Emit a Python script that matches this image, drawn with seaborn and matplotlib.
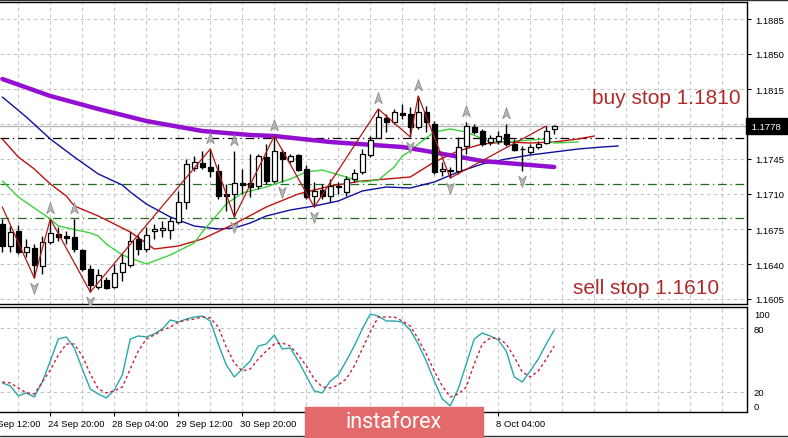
import numpy as np
import pandas as pd
import matplotlib
matplotlib.use('Agg')
import matplotlib.pyplot as plt
import matplotlib.transforms as mtransforms
from matplotlib.patches import Rectangle
from matplotlib.lines import Line2D
import seaborn as sns

# EURUSD H4 candles (bar 0 = 23 Sep 04:00)
opens = [1.1680, 1.1658, 1.1673, 1.1652, 1.1656, 1.1638, 1.1662, 1.1670, 1.1668, 1.1667,
         1.1654, 1.1635, 1.1617, 1.1624, 1.1617, 1.1632, 1.1639, 1.1665, 1.1655, 1.1673,
         1.1674, 1.1674, 1.1682, 1.1702, 1.1736, 1.1741, 1.1737, 1.1733, 1.1710, 1.1710,
         1.1721, 1.1721, 1.1718, 1.1747, 1.1723, 1.1752, 1.1743, 1.1749, 1.1735, 1.1708,
         1.1714, 1.1708, 1.1717, 1.1712, 1.1725, 1.1732, 1.1749, 1.1766, 1.1786, 1.1782,
         1.1791, 1.1790, 1.1777, 1.1792, 1.1780, 1.1733, 1.1734, 1.1733, 1.1758, 1.1777,
         1.1773, 1.1762, 1.1763, 1.1770, 1.1760, 1.1755, 1.1752, 1.1757, 1.1761, 1.1775]
highs = [1.1685, 1.1678, 1.1679, 1.1665, 1.1660, 1.1668, 1.1685, 1.1677, 1.1673, 1.1685,
         1.1655, 1.1639, 1.1635, 1.1627, 1.1640, 1.1650, 1.1672, 1.1669, 1.1677, 1.1680,
         1.1683, 1.1687, 1.1713, 1.1745, 1.1748, 1.1753, 1.1755, 1.1740, 1.1720, 1.1753,
         1.1735, 1.1750, 1.1750, 1.1760, 1.1768, 1.1755, 1.1750, 1.1750, 1.1739, 1.1722,
         1.1720, 1.1725, 1.1722, 1.1728, 1.1735, 1.1755, 1.1768, 1.1795, 1.1790, 1.1795,
         1.1800, 1.1797, 1.1808, 1.1798, 1.1783, 1.1742, 1.1737, 1.1767, 1.1782, 1.1780,
         1.1775, 1.1769, 1.1773, 1.1780, 1.1765, 1.1758, 1.1760, 1.1763, 1.1778, 1.1779]
lows = [1.1652, 1.1652, 1.1650, 1.1647, 1.1626, 1.1630, 1.1660, 1.1663, 1.1660, 1.1652,
        1.1633, 1.1612, 1.1615, 1.1615, 1.1616, 1.1623, 1.1637, 1.1649, 1.1652, 1.1665,
        1.1667, 1.1665, 1.1680, 1.1695, 1.1733, 1.1735, 1.1727, 1.1705, 1.1693, 1.1687,
        1.1710, 1.1707, 1.1715, 1.1720, 1.1721, 1.1722, 1.1741, 1.1733, 1.1705, 1.1697,
        1.1705, 1.1702, 1.1710, 1.1708, 1.1722, 1.1730, 1.1747, 1.1766, 1.1772, 1.1780,
        1.1785, 1.1767, 1.1775, 1.1772, 1.1730, 1.1728, 1.1726, 1.1730, 1.1750, 1.1770,
        1.1758, 1.1759, 1.1760, 1.1758, 1.1753, 1.1733, 1.1750, 1.1755, 1.1760, 1.1770]
closes = [1.1658, 1.1672, 1.1652, 1.1657, 1.1639, 1.1662, 1.1671, 1.1667, 1.1666, 1.1655,
          1.1635, 1.1619, 1.1629, 1.1616, 1.1631, 1.1641, 1.1663, 1.1655, 1.1669, 1.1675,
          1.1676, 1.1683, 1.1702, 1.1740, 1.1742, 1.1737, 1.1733, 1.1708, 1.1708, 1.1721,
          1.1719, 1.1717, 1.1748, 1.1723, 1.1753, 1.1745, 1.1748, 1.1734, 1.1707, 1.1713,
          1.1708, 1.1718, 1.1718, 1.1725, 1.1731, 1.1750, 1.1764, 1.1787, 1.1782, 1.1792,
          1.1789, 1.1777, 1.1792, 1.1782, 1.1732, 1.1735, 1.1733, 1.1757, 1.1778, 1.1772,
          1.1760, 1.1766, 1.1768, 1.1760, 1.1754, 1.1755, 1.1757, 1.1760, 1.1773, 1.1778]

# moving averages (bar index, price)
purple_idx = [0, 6, 12, 18, 25, 31, 34, 41, 50, 53, 60, 69]
purple_px = [1.1825, 1.1808, 1.1795, 1.1783, 1.1773, 1.1769, 1.1768, 1.1762, 1.1757, 1.1753, 1.1743, 1.1737]
blue_idx = [0, 3, 6, 9, 12, 15, 16, 18, 21, 24, 27, 29, 31, 33, 36, 39, 42, 45, 48, 51, 54, 57, 60, 63, 66, 69, 72, 75, 77]
blue_px = [1.1807, 1.1787, 1.1765, 1.1747, 1.1730, 1.1719, 1.1712, 1.1700, 1.1687, 1.1678, 1.1675, 1.1676,
           1.1681, 1.1688, 1.1694, 1.1698, 1.1703, 1.1713, 1.1717, 1.1716, 1.1722, 1.1732, 1.1740, 1.1745,
           1.1749, 1.1752, 1.1755, 1.1757, 1.1758]
red_idx = [0, 2, 4, 6, 8, 9, 12, 16, 19, 22, 25, 29, 33, 37, 41, 45, 48, 51, 54, 57, 60, 63, 66, 69, 72, 74]
red_px = [1.1765, 1.1747, 1.1735, 1.1720, 1.1708, 1.1698, 1.1688, 1.1672, 1.1655, 1.1658, 1.1665, 1.1680,
          1.1697, 1.1710, 1.1718, 1.1723, 1.1725, 1.1727, 1.1742, 1.1753, 1.1760, 1.1762, 1.1761, 1.1762,
          1.1765, 1.1768]
green_idx = [0, 2, 6, 7, 11, 12, 13, 15, 17, 18, 21, 24, 25, 28, 30, 33, 36, 38, 40, 43, 45, 47, 49, 50,
             51, 52, 54, 56, 58, 61, 63, 66, 68, 69, 72]
green_px = [1.1723, 1.1707, 1.1685, 1.1678, 1.1671, 1.1668, 1.1660, 1.1649, 1.1643, 1.1640, 1.1649, 1.1661,
            1.1672, 1.1700, 1.1711, 1.1717, 1.1725, 1.1732, 1.1734, 1.1727, 1.1722, 1.1724, 1.1737, 1.1748,
            1.1753, 1.1760, 1.1772, 1.1775, 1.1772, 1.1762, 1.1762, 1.1764, 1.1765, 1.1761, 1.1762]

# zigzag pivots
zz_idx = [0, 4, 6, 11, 26, 29, 34, 39, 47, 51, 52, 56, 68]
zz_px = [1.1697, 1.1626, 1.1685, 1.1612, 1.1755, 1.1687, 1.1768, 1.1697, 1.1795, 1.1767, 1.1808, 1.1726, 1.1778]

# fractals
frac_up = [6, 9, 26, 29, 34, 47, 52, 58, 63]
frac_down = [4, 11, 29, 35, 39, 51, 56, 65]

# levels
bid = 1.1778
black_level = 1.1766
green_levels = [1.1720, 1.1686]
price_ticks = [1.1885, 1.1850, 1.1815, 1.1780, 1.1745, 1.1710, 1.1675, 1.1640, 1.1605]

# stochastic
stoch_main = [28.5, 25.6, 16.3, 19.1, 15.3, 29.4, 49.1, 69.7, 71.6, 61.3,
              41.6, 22.8, 18.1, 14.4, 21.9, 36.0, 69.7, 72.5, 71.6, 74.4,
              79.1, 87.5, 85.6, 88.4, 90.3, 91.2, 86.6, 65.0, 45.3, 34.1,
              41.6, 49.1, 63.1, 65.0, 73.4, 60.3, 61.3, 49.1, 35.0, 21.0,
              19.1, 30.3, 36.0, 49.1, 63.1, 79.1, 93.1, 91.2, 86.6, 86.6,
              85.6, 78.1, 65.0, 49.1, 30.3, 13.5, 6.9, 22.8, 46.3, 69.7,
              75.3, 72.5, 68.8, 58.4, 34.1, 29.4, 39.7, 50.9, 65.0, 78.1]
stoch_signal = [29.4, 28.5, 23.8, 19.1, 18.1, 29.4, 40.6, 54.7, 65.0, 65.0,
                53.8, 36.9, 22.8, 19.1, 21.0, 24.7, 41.6, 58.4, 69.7, 73.4,
                78.1, 80.9, 85.6, 87.5, 88.4, 90.3, 89.4, 80.9, 62.2, 47.2,
                39.7, 41.6, 50.9, 58.4, 65.0, 65.9, 63.1, 54.7, 44.4, 32.2,
                24.7, 23.8, 26.6, 32.2, 44.4, 60.3, 76.3, 90.3, 90.3, 90.3,
                86.6, 81.9, 69.7, 55.6, 39.7, 25.6, 15.3, 18.1, 24.7, 46.3,
                65.0, 70.6, 70.6, 65.0, 52.8, 38.8, 34.1, 39.7, 50.9, 63.1]

# time axis: labels at bars -2, 6, ... (the ones under the logo are not visible)
tick_idx = [6, 14, 22, 30, 38, 46, 54, 62]
time_idx = [-2, 6, 14, 22, 30, 62]
time_labels = ['23 Sep 12:00', '24 Sep 20:00', '28 Sep 04:00', '29 Sep 12:00', '30 Sep 20:00',
               '8 Oct 04:00']

sns.set_theme(style='white')
plt.rcParams['font.family'] = ['Liberation Sans', 'DejaVu Sans']

W, H = 788, 439
fig = plt.figure(figsize=(W / 100, H / 100), dpi=100)
fig.patch.set_facecolor('white')
ax = fig.add_axes([0, (H - 305) / H, 747 / W, 302 / H])
ax2 = fig.add_axes([0, (H - 413) / H, 747 / W, 105.3 / H])

xlim = (-0.29, 93.1)
grid_kw = dict(color='#c4c4c4', lw=0.8, ls=(0, (3, 3)), zorder=0)
for a in (ax, ax2):
    a.set_facecolor('white')
    a.set_xlim(*xlim)
    for g in range(2, 94, 4):
        a.axvline(g, **grid_kw)
    a.spines['left'].set_visible(False)
    for s in ('top', 'right', 'bottom'):
        a.spines[s].set_color('black')
        a.spines[s].set_linewidth(1)

# ---- main price panel
ax.set_ylim(1.1600, 1.1902)
for p in price_ticks:
    ax.axhline(p, **grid_kw)
ax.axhline(bid, color='#b8b8b8', lw=1, zorder=1)
ax.axhline(black_level, color='black', lw=0.9, ls=(0, (7, 3, 1, 3)), zorder=1)
for lv in green_levels:
    ax.axhline(lv, color='#1f6b1f', lw=0.9, ls=(0, (7, 3, 1, 3)), zorder=1)

df = pd.DataFrame({'o': opens, 'h': highs, 'l': lows, 'c': closes})
df['k'] = np.arange(len(df))
ax.vlines(df['k'], df['l'], df['h'], color='black', lw=1, zorder=4)
bull = df['c'] >= df['o']
body_lo = df[['o', 'c']].min(axis=1)
body_h = (df['c'] - df['o']).abs().clip(lower=0.00003)
ax.bar(df['k'][bull], body_h[bull], bottom=body_lo[bull], width=0.62,
       color='white', edgecolor='black', lw=0.9, zorder=5)
ax.bar(df['k'][~bull], body_h[~bull], bottom=body_lo[~bull], width=0.62,
       color='black', edgecolor='black', lw=0.9, zorder=5)

sns.lineplot(x=blue_idx, y=blue_px, ax=ax, color='#1010a0', lw=1, zorder=3)
sns.lineplot(x=red_idx, y=red_px, ax=ax, color='#c01010', lw=1, zorder=3)
sns.lineplot(x=green_idx, y=green_px, ax=ax, color='#3cd23c', lw=1, zorder=3)
sns.lineplot(x=purple_idx, y=purple_px, ax=ax, color='#9410d0', lw=3.2, zorder=3)
sns.lineplot(x=zz_idx, y=zz_px, ax=ax, color='#b01818', lw=0.9, zorder=6)

arrow_up = [(0, 1), (0.65, -0.9), (0, -0.35), (-0.65, -0.9), (0, 1)]
arrow_dn = [(x, -y) for x, y in arrow_up]
ax.scatter([k for k in frac_up], [highs[k] + 0.0011 for k in frac_up], marker=arrow_up,
           s=70, color='#b8b8b8', edgecolor='#8c8c8c', lw=0.6, zorder=7)
ax.scatter([k for k in frac_down], [lows[k] - 0.0010 for k in frac_down], marker=arrow_dn,
           s=70, color='#b8b8b8', edgecolor='#8c8c8c', lw=0.6, zorder=7)

ax.yaxis.tick_right()
shown = [p for p in price_ticks if abs(p - bid) > 0.0005]
ax.set_yticks(shown)
ax.set_yticklabels([f'{p:.4f}' for p in shown])
ax.tick_params(axis='y', right=True, length=3, width=0.8, color='black', pad=3,
               labelsize=6.8, labelcolor='black')
ax.set_xticks([])
ax.set_xlabel('')
ax.set_ylabel('')

trans = mtransforms.blended_transform_factory(ax.transAxes, ax.transData)
ax.text(1.003, bid, ' 1.1778 ', transform=trans, color='white', fontsize=6.8, ha='left',
        va='center', clip_on=False, zorder=20,
        bbox=dict(boxstyle='square,pad=0.35', fc='black', ec='black'))

ax.text(592 / 747, 0.666, 'buy stop 1.1810', transform=ax.transAxes, color='#ad2b2b',
        fontsize=15, ha='left', va='baseline', zorder=8)
ax.text(573 / 747, 0.037, 'sell stop 1.1610', transform=ax.transAxes, color='#ad2b2b',
        fontsize=15, ha='left', va='baseline', zorder=8)

# ---- stochastic panel
ax2.set_ylim(1.2, 100)
for lv in (80, 20):
    ax2.axhline(lv, **grid_kw)
sns.lineplot(x=np.arange(len(stoch_main)), y=stoch_main, ax=ax2, color='#28a8a8', lw=1, zorder=3)
sns.lineplot(x=np.arange(len(stoch_signal)), y=stoch_signal, ax=ax2, color='#c81e3c', lw=1,
             ls=(0, (2, 2)), zorder=3)
ax2.yaxis.tick_right()
ax2.set_yticks([94, 80, 20, 7])
ax2.set_yticklabels(['100', '80', '20', '0'])
ax2.tick_params(axis='y', right=True, length=0, pad=5, labelsize=6.8, labelcolor='black')
ax2.set_xticks(tick_idx)
ax2.set_xticklabels([])
ax2.tick_params(axis='x', bottom=True, length=3, width=0.8, color='black')
ax2.set_xlabel('')
ax2.set_ylabel('')
ttrans = mtransforms.blended_transform_factory(ax2.transData, ax2.transAxes)
for k, lab in zip(time_idx, time_labels):
    ax2.text(k - 0.25, -0.105, lab, transform=ttrans, fontsize=6.8, ha='left', va='center',
             color='black', clip_on=False)

# frame lines
fig.add_artist(Line2D([0, 1], [1 - 0.8 / H, 1 - 0.8 / H], color='#303030', lw=1))
fig.add_artist(Line2D([0, 1], [1 - 437 / H, 1 - 437 / H], color='#303030', lw=1))

# logo
fig.add_artist(Rectangle((305 / W, 0), (483 - 305) / W, (H - 408) / H, transform=fig.transFigure,
                         color='#e26a6a', zorder=10))
fig.text(394 / W, (H - 423) / H, 'instaforex', color='white', fontsize=15.5, ha='center', va='center',
         family=['Roboto', 'DejaVu Sans'], zorder=11)

fig.savefig('out.png', dpi=100, facecolor='white')
